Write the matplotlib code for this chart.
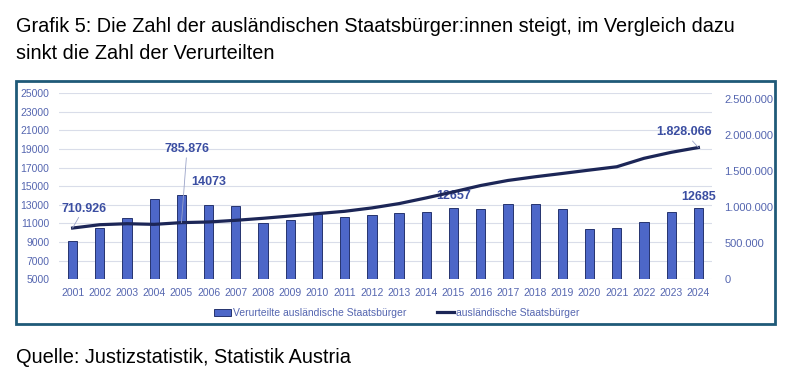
import numpy as np
import matplotlib.pyplot as plt
from matplotlib.patches import Rectangle
from matplotlib.ticker import FuncFormatter

plt.rcParams['font.family'] = ['Liberation Sans', 'DejaVu Sans']

years = list(range(2001, 2025))
verurteilte = [9150, 10520, 11560, 13670, 14073, 12960, 12890, 11020, 11380, 12025,
               11670, 11880, 12170, 12280, 12657, 12600, 13060, 13100, 12600, 10380,
               10560, 11160, 12240, 12685]
staatsbuerger = [710926, 757000, 771000, 762000, 785876, 795000, 818000, 846000, 878000, 911000,
                 943000, 990000, 1050000, 1129000, 1213000, 1301000, 1371000, 1422000, 1468000, 1515000,
                 1561000, 1678000, 1761000, 1828066]

bar_color = '#4d67c8'
line_color = '#1c2657'
tick_color = '#5566b0'
label_color = '#3b4ea2'

fig = plt.figure(figsize=(7.89, 3.83), dpi=100)

# frame around the chart
fig.patches.append(Rectangle((0.0203, 0.154), 0.962, 0.6345, transform=fig.transFigure,
                             facecolor='white', edgecolor='#1f5a78', linewidth=2, zorder=-1))

ax = fig.add_axes([0.0748, 0.2708, 0.8276, 0.4856])
ax.set_facecolor('none')
x = np.arange(len(years))
bars = ax.bar(x, verurteilte, width=0.34, color=bar_color, edgecolor='#26346f', linewidth=0.7,
              label='Verurteilte ausländische Staatsbürger', zorder=2)
ax.set_ylim(5000, 25000)
ax.set_yticks(range(5000, 25001, 2000))
ax.set_xlim(-0.5, len(years) - 0.5)
ax.set_xticks(x)
ax.set_xticklabels(years)
ax.grid(axis='y', color='#d9dde9', linewidth=0.8, zorder=0)
ax.tick_params(length=0, labelsize=7.5, colors=tick_color, pad=6)
ax.tick_params(axis='y', pad=7)
for s in ax.spines.values():
    s.set_visible(False)

ax2 = ax.twinx()
ax2.plot(x, staatsbuerger, color=line_color, linewidth=2.3, label='ausländische Staatsbürger', zorder=3)
ax2.set_ylim(0, 2580000)
ax2.set_yticks(range(0, 2500001, 500000))
ax2.yaxis.set_major_formatter(FuncFormatter(lambda v, p: f'{int(v):,}'.replace(',', '.')))
ax2.tick_params(length=0, labelsize=8, colors=tick_color, pad=9)
for s in ax2.spines.values():
    s.set_visible(False)

lead = dict(arrowstyle='-', color='#9aa3c8', linewidth=0.6, shrinkA=0, shrinkB=0)
ax2.annotate('710.926', (x[0], staatsbuerger[0]), xytext=(8, 14), textcoords='offset points',
             ha='center', va='center', fontsize=9, fontweight='bold', color=label_color, arrowprops=lead)
ax2.annotate('785.876', (x[4], staatsbuerger[4]), xytext=(4, 53), textcoords='offset points',
             ha='center', va='center', fontsize=9, fontweight='bold', color=label_color, arrowprops=lead)
ax2.annotate('1.828.066', (x[-1], staatsbuerger[-1]), xytext=(-10, 11), textcoords='offset points',
             ha='center', va='center', fontsize=9, fontweight='bold', color=label_color, arrowprops=lead)
ax.annotate(str(verurteilte[4]), (x[4], verurteilte[4]), xytext=(20, 9), textcoords='offset points',
            ha='center', va='center', fontsize=9, fontweight='bold', color=label_color, zorder=5)
ax.annotate(str(verurteilte[14]), (x[14], verurteilte[14]), xytext=(0, 9), textcoords='offset points',
            ha='center', va='center', fontsize=9, fontweight='bold', color=label_color, zorder=5)
ax.annotate(str(verurteilte[-1]), (x[-1], verurteilte[-1]), xytext=(0, 8), textcoords='offset points',
            ha='center', va='center', fontsize=9, fontweight='bold', color=label_color, zorder=5)

h1, l1 = ax.get_legend_handles_labels()
h2, l2 = ax2.get_legend_handles_labels()
fig.legend(h1 + h2, l1 + l2, loc='center', bbox_to_anchor=(0.503, 0.183), ncol=2, frameon=False,
           fontsize=7.5, labelcolor=tick_color, handlelength=1.6, handletextpad=0.2, columnspacing=3)

fig.text(0.0203, 0.9164, 'Grafik 5: Die Zahl der ausländischen Staatsbürger:innen steigt, im Vergleich dazu',
         fontsize=14.3, va='baseline', ha='left')
fig.text(0.0203, 0.846, 'sinkt die Zahl der Verurteilten', fontsize=14.3, va='baseline', ha='left')
fig.text(0.0203, 0.0522, 'Quelle: Justizstatistik, Statistik Austria', fontsize=14.4, va='baseline', ha='left')

fig.savefig('out.png', dpi=100)
